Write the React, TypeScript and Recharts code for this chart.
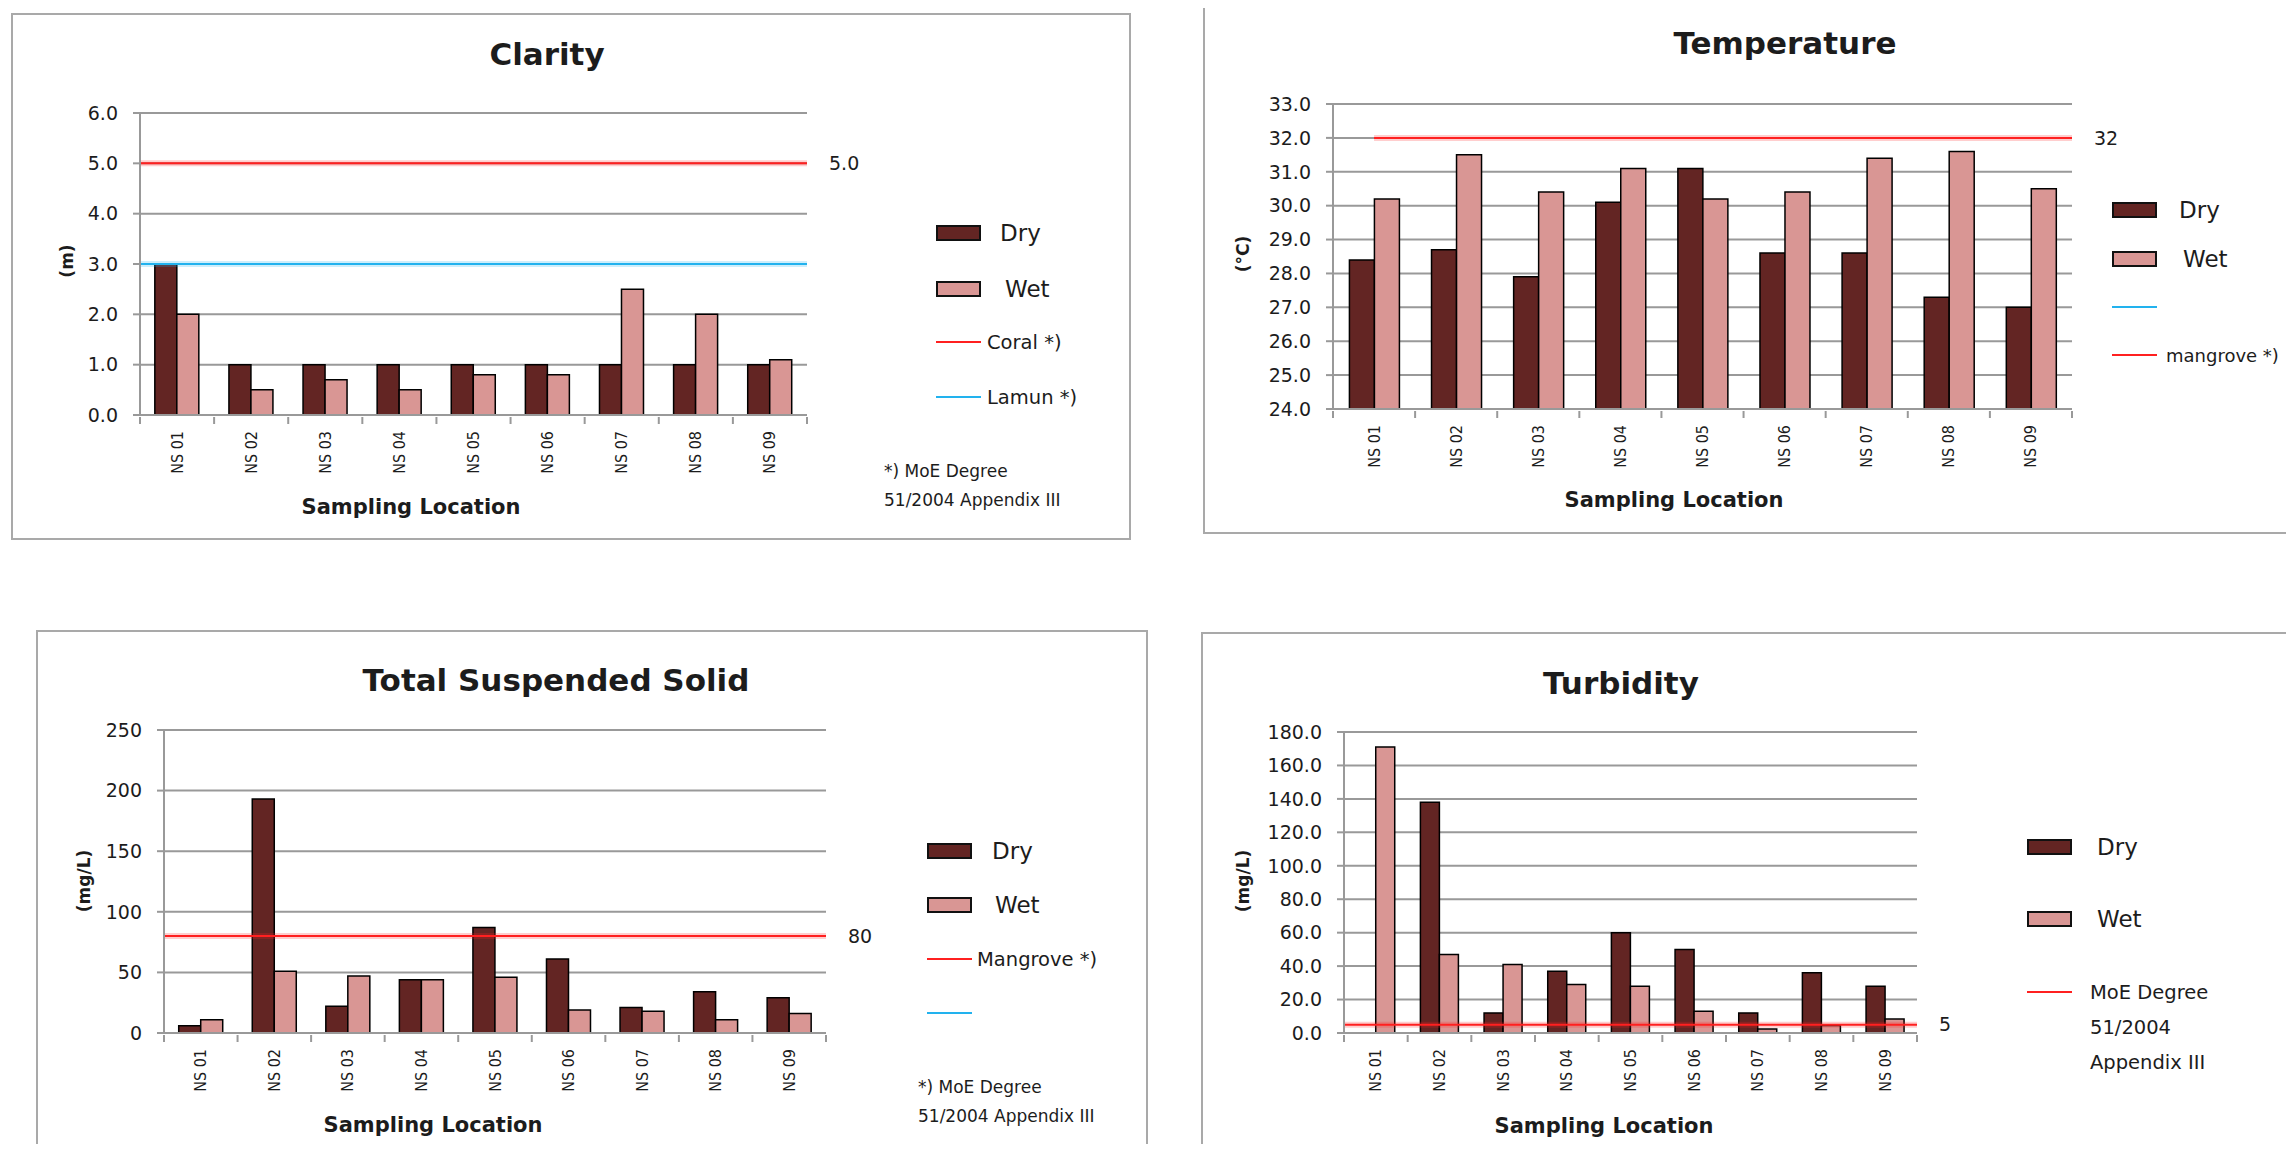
import React from "react";
import { BarChart, Bar, XAxis, YAxis, CartesianGrid, ReferenceLine } from "recharts";

const FONT = "'DejaVu Sans', Verdana, sans-serif";
const NARROW = "'DejaVu Sans Condensed', 'Liberation Sans Narrow', 'DejaVu Sans', sans-serif";
const INK = "#1c1c1c";
const DRY = "#632523";
const WET = "#d99694";
const GRID = "#999999";
const RED = "#ff2020";
const BLUE = "#22b2ee";

const locations = ["NS 01", "NS 02", "NS 03", "NS 04", "NS 05", "NS 06", "NS 07", "NS 08", "NS 09"];

// water clarity (m)
const clarityDry = [3.0, 1.0, 1.0, 1.0, 1.0, 1.0, 1.0, 1.0, 1.0];
const clarityWet = [2.0, 0.5, 0.7, 0.5, 0.8, 0.8, 2.5, 2.0, 1.1];
const clarityTicks = [0, 1, 2, 3, 4, 5, 6];
const coralLimit = 5.0;
const lamunLimit = 3.0;

// temperature (°C)
const temperatureDry = [28.4, 28.7, 27.9, 30.1, 31.1, 28.6, 28.6, 27.3, 27.0];
const temperatureWet = [30.2, 31.5, 30.4, 31.1, 30.2, 30.4, 31.4, 31.6, 30.5];
const temperatureTicks = [24, 25, 26, 27, 28, 29, 30, 31, 32, 33];
const mangroveTemp = 32;

// total suspended solid (mg/L)
const tssDry = [6, 193, 22, 44, 87, 61, 21, 34, 29];
const tssWet = [11, 51, 47, 44, 46, 19, 18, 11, 16];
const tssTicks = [0, 50, 100, 150, 200, 250];
const mangroveTss = 80;

// turbidity
const turbidityDry = [0, 138, 12, 37, 60, 50, 12, 36, 28];
const turbidityWet = [171, 47, 41, 29, 28, 13, 2.4, 4.5, 8.3];
const turbidityTicks = [0, 20, 40, 60, 80, 100, 120, 140, 160, 180];
const turbidityLimit = 5;

type Rect = { left: number; top: number; right: number; bottom: number };
type Limit = { value: number; color: string; label?: string; fromFirst?: boolean };
type LegendItem = {
  kind: "box" | "line";
  color: string;
  y: number;
  textX: number;
  lines: string[];
  size?: number;
};

type PanelCfg = {
  title: string;
  titleAt: [number, number];
  unit: string;
  unitAt: [number, number];
  xTitleAt: [number, number];
  box: Rect;
  plot: Rect;
  dry: number[];
  wet: number[];
  ticks: number[];
  digits: number;
  limits: Limit[];
  swatchX: number;
  legend: LegendItem[];
  note?: { x: number; ys: number[] };
};

const Y_AXIS_W = 70;
const X_AXIS_H = 60;

function rows(dry: number[], wet: number[]) {
  return locations.map((loc, i) => ({ loc, dry: dry[i], wet: wet[i] }));
}

function LocationTick(props: any) {
  const { x, y, payload, index, half, count } = props;
  const marks = [x - half];
  if (index === count - 1) marks.push(x + half);
  return (
    <g>
      {marks.map((mx) => (
        <line key={mx} x1={mx} x2={mx} y1={y} y2={y + 7} stroke={GRID} strokeWidth={2} />
      ))}
      <text
        x={x}
        y={y + 14}
        transform={`rotate(-90, ${x}, ${y + 14})`}
        textAnchor="end"
        dominantBaseline="central"
        fontFamily={NARROW}
        fontSize={16}
        fill={INK}
      >
        {payload.value}
      </text>
    </g>
  );
}

// limit line with a soft halo; optionally starts at the first category centre
const limitShape = (color: string, skip: number) => (p: any) => {
  const x1 = p.x1 + skip;
  return (
    <g>
      <line x1={x1} x2={p.x2} y1={p.y1} y2={p.y2} stroke={color} strokeOpacity={0.22} strokeWidth={6} />
      <line x1={x1} x2={p.x2} y1={p.y1} y2={p.y2} stroke={color} strokeWidth={2} />
    </g>
  );
};

const centered: React.CSSProperties = {
  position: "absolute",
  transform: "translate(-50%, -50%)",
  whiteSpace: "nowrap",
  color: INK,
};

function Panel({ cfg }: { cfg: PanelCfg }) {
  const { box, plot } = cfg;
  const width = box.right - box.left;
  const height = box.bottom - box.top;
  const margin = {
    top: plot.top - box.top,
    bottom: box.bottom - plot.bottom - X_AXIS_H,
    left: plot.left - box.left - Y_AXIS_W,
    right: box.right - plot.right,
  };
  const half = (plot.right - plot.left) / locations.length / 2;
  const data = rows(cfg.dry, cfg.wet);
  const lo = cfg.ticks[0];
  const hi = cfg.ticks[cfg.ticks.length - 1];

  return (
    <>
      <div
        style={{
          position: "absolute",
          left: box.left,
          top: box.top,
          width,
          height,
          boxSizing: "border-box",
          border: "2px solid #a9a9a9",
        }}
      />
      <div style={{ position: "absolute", left: box.left, top: box.top }}>
        <BarChart width={width} height={height} data={data} margin={margin} barCategoryGap="20%" barGap={0}>
          <CartesianGrid vertical={false} stroke={GRID} strokeWidth={2} />
          <XAxis
            dataKey="loc"
            height={X_AXIS_H}
            interval={0}
            tickSize={0}
            tickLine={false}
            axisLine={{ stroke: GRID, strokeWidth: 2 }}
            tick={<LocationTick half={half} count={locations.length} />}
          />
          <YAxis
            type="number"
            width={Y_AXIS_W}
            domain={[lo, hi]}
            ticks={cfg.ticks}
            interval={0}
            allowDataOverflow
            tickSize={7}
            tickMargin={15}
            tickLine={{ stroke: GRID, strokeWidth: 2 }}
            axisLine={{ stroke: GRID, strokeWidth: 2 }}
            tick={{ fill: INK, fontSize: 19, fontFamily: FONT }}
            tickFormatter={(v: number) => v.toFixed(cfg.digits)}
          />
          <Bar dataKey="dry" fill={DRY} stroke="#000" strokeWidth={1.5} isAnimationActive={false} />
          <Bar dataKey="wet" fill={WET} stroke="#000" strokeWidth={1.5} isAnimationActive={false} />
          {cfg.limits.map((l) => (
            <ReferenceLine
              key={l.value + l.color}
              y={l.value}
              stroke={l.color}
              shape={limitShape(l.color, l.fromFirst ? half : 0)}
              label={
                l.label
                  ? { value: l.label, position: "right", offset: 22, fill: INK, fontSize: 19, fontFamily: FONT }
                  : undefined
              }
            />
          ))}
        </BarChart>
      </div>

      <div style={{ ...centered, left: cfg.titleAt[0], top: cfg.titleAt[1], fontSize: 31, fontWeight: 700 }}>
        {cfg.title}
      </div>
      <div
        style={{
          ...centered,
          left: cfg.unitAt[0],
          top: cfg.unitAt[1],
          fontSize: 17,
          fontWeight: 700,
          transform: "translate(-50%, -50%) rotate(-90deg)",
        }}
      >
        {cfg.unit}
      </div>
      <div style={{ ...centered, left: cfg.xTitleAt[0], top: cfg.xTitleAt[1], fontSize: 21, fontWeight: 700 }}>
        Sampling Location
      </div>

      {cfg.legend.map((item, i) => (
        <React.Fragment key={i}>
          {item.kind === "box" ? (
            <div
              style={{
                position: "absolute",
                left: cfg.swatchX,
                top: item.y - 8,
                width: 45,
                height: 16,
                boxSizing: "border-box",
                border: "2px solid #111",
                background: item.color,
              }}
            />
          ) : (
            <div
              style={{
                position: "absolute",
                left: cfg.swatchX,
                top: item.y - 1,
                width: 45,
                height: 2,
                background: item.color,
              }}
            />
          )}
          {item.lines.map((t, j) => (
            <div
              key={j}
              style={{
                position: "absolute",
                left: item.textX,
                top: item.y + j * 35,
                transform: "translateY(-50%)",
                whiteSpace: "nowrap",
                color: INK,
                fontSize: item.size ?? (item.kind === "box" ? 23 : 19.5),
              }}
            >
              {t}
            </div>
          ))}
        </React.Fragment>
      ))}

      {cfg.note &&
        ["*) MoE Degree", "51/2004 Appendix III"].map((t, j) => (
          <div
            key={t}
            style={{
              position: "absolute",
              left: cfg.note!.x,
              top: cfg.note!.ys[j],
              transform: "translateY(-50%)",
              whiteSpace: "nowrap",
              color: INK,
              fontSize: 17,
            }}
          >
            {t}
          </div>
        ))}
    </>
  );
}

const clarity: PanelCfg = {
  title: "Clarity",
  titleAt: [547, 54],
  unit: "(m)",
  unitAt: [67, 261],
  xTitleAt: [411, 507],
  box: { left: 11, top: 13, right: 1131, bottom: 540 },
  plot: { left: 140, top: 113, right: 807, bottom: 415 },
  dry: clarityDry,
  wet: clarityWet,
  ticks: clarityTicks,
  digits: 1,
  limits: [
    { value: coralLimit, color: RED, label: coralLimit.toFixed(1) },
    { value: lamunLimit, color: BLUE },
  ],
  swatchX: 936,
  legend: [
    { kind: "box", color: DRY, y: 233, textX: 1000, lines: ["Dry"] },
    { kind: "box", color: WET, y: 289, textX: 1005, lines: ["Wet"] },
    { kind: "line", color: RED, y: 342, textX: 987, lines: ["Coral *)"] },
    { kind: "line", color: BLUE, y: 397, textX: 987, lines: ["Lamun *)"] },
  ],
  note: { x: 884, ys: [471, 500] },
};

const temperature: PanelCfg = {
  title: "Temperature",
  titleAt: [1785, 43],
  unit: "(°C)",
  unitAt: [1243, 254],
  xTitleAt: [1674, 500],
  box: { left: 1203, top: 5, right: 2304, bottom: 534 },
  plot: { left: 1333, top: 104, right: 2072, bottom: 409 },
  dry: temperatureDry,
  wet: temperatureWet,
  ticks: temperatureTicks,
  digits: 1,
  limits: [{ value: mangroveTemp, color: RED, label: String(mangroveTemp), fromFirst: true }],
  swatchX: 2112,
  legend: [
    { kind: "box", color: DRY, y: 210, textX: 2179, lines: ["Dry"] },
    { kind: "box", color: WET, y: 259, textX: 2183, lines: ["Wet"] },
    { kind: "line", color: BLUE, y: 307, textX: 2169, lines: [] },
    { kind: "line", color: RED, y: 355, textX: 2166, lines: ["mangrove *)"], size: 18 },
  ],
};

const tss: PanelCfg = {
  title: "Total Suspended Solid",
  titleAt: [556, 680],
  unit: "(mg/L)",
  unitAt: [84, 881],
  xTitleAt: [433, 1125],
  box: { left: 36, top: 630, right: 1148, bottom: 1162 },
  plot: { left: 164, top: 730, right: 826, bottom: 1033 },
  dry: tssDry,
  wet: tssWet,
  ticks: tssTicks,
  digits: 0,
  limits: [{ value: mangroveTss, color: RED, label: String(mangroveTss) }],
  swatchX: 927,
  legend: [
    { kind: "box", color: DRY, y: 851, textX: 992, lines: ["Dry"] },
    { kind: "box", color: WET, y: 905, textX: 995, lines: ["Wet"] },
    { kind: "line", color: RED, y: 959, textX: 977, lines: ["Mangrove *)"] },
    { kind: "line", color: BLUE, y: 1013, textX: 977, lines: [] },
  ],
  note: { x: 918, ys: [1087, 1116] },
};

const turbidity: PanelCfg = {
  title: "Turbidity",
  titleAt: [1621, 683],
  unit: "(mg/L)",
  unitAt: [1243, 881],
  xTitleAt: [1604, 1126],
  box: { left: 1201, top: 632, right: 2304, bottom: 1162 },
  plot: { left: 1344, top: 732, right: 1917, bottom: 1033 },
  dry: turbidityDry,
  wet: turbidityWet,
  ticks: turbidityTicks,
  digits: 1,
  limits: [{ value: turbidityLimit, color: RED, label: String(turbidityLimit) }],
  swatchX: 2027,
  legend: [
    { kind: "box", color: DRY, y: 847, textX: 2097, lines: ["Dry"] },
    { kind: "box", color: WET, y: 919, textX: 2097, lines: ["Wet"] },
    { kind: "line", color: RED, y: 992, textX: 2090, lines: ["MoE Degree", "51/2004", "Appendix III"] },
  ],
};

export default function App() {
  return (
    <div
      style={{
        position: "relative",
        width: 2294,
        height: 1152,
        margin: -8,
        overflow: "hidden",
        background: "#fff",
        fontFamily: FONT,
      }}
    >
      <Panel cfg={clarity} />
      <Panel cfg={temperature} />
      <Panel cfg={tss} />
      <Panel cfg={turbidity} />
    </div>
  );
}
